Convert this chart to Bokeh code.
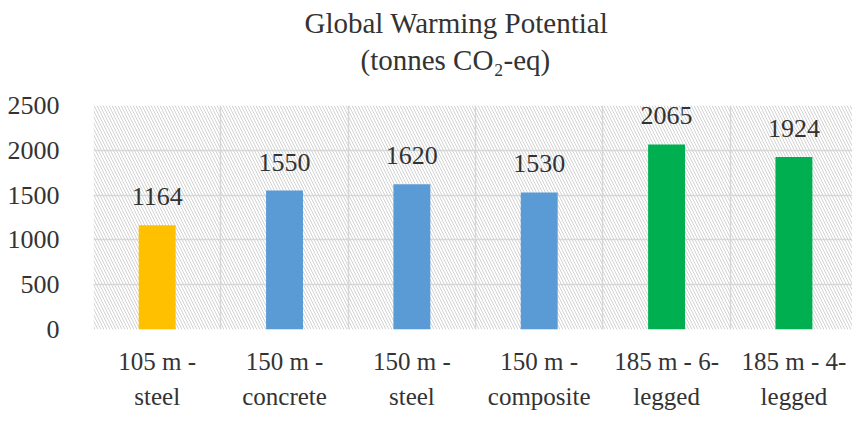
from bokeh.plotting import figure
from bokeh.models import (ColumnDataSource, Range1d, FixedTicker, LabelSet, BoxAnnotation, Title)
from bokeh.embed import file_html
from bokeh.resources import INLINE

categories = ["105 m -\nsteel", "150 m -\nconcrete", "150 m -\nsteel",
              "150 m -\ncomposite", "185 m - 6-\nlegged", "185 m - 4-\nlegged"]
values = [1164, 1550, 1620, 1530, 2065, 1924]
colors = ["#FFC000", "#5B9BD5", "#5B9BD5", "#5B9BD5", "#00B050", "#00B050"]
y_ticks = [0, 500, 1000, 1500, 2000, 2500]
title_text = "Global Warming Potential"
subtitle_text = "(tonnes CO\u2082-eq)"

FONT = "Liberation Serif"
TXT = "#333333"

xpos = [i + 0.5 for i in range(len(categories))]
src = ColumnDataSource(dict(x=xpos, top=values, color=colors,
                            label=[str(v) for v in values]))

p = figure(width=852, height=423, output_backend="svg", toolbar_location=None,
           x_range=Range1d(0, 5.96), y_range=Range1d(0, 2500),
           min_border_left=93, min_border_right=0, min_border_top=105,
           min_border_bottom=94)
p.title = None
p.outline_line_color = None
p.background_fill_color = "white"
p.border_fill_color = "white"

hatch = BoxAnnotation(fill_alpha=0, line_alpha=0, hatch_pattern="\\",
                      hatch_color="#d2d2d2", hatch_scale=6, hatch_weight=1,
                      level="underlay")
p.add_layout(hatch)

p.vbar(x="x", top="top", width=0.29, bottom=0, color="color", line_color=None, source=src)

labels = LabelSet(x="x", y="top", text="label", source=src, text_align="center",
                  text_baseline="bottom", y_offset=20, text_font=FONT,
                  text_font_size="26px", text_color=TXT)
p.add_layout(labels)

p.xaxis.ticker = FixedTicker(ticks=xpos)
p.xaxis.major_label_overrides = {x: c for x, c in zip(xpos, categories)}
p.yaxis.ticker = FixedTicker(ticks=y_ticks)

for ax in (p.xaxis, p.yaxis):
    ax.axis_line_color = None
    ax.major_tick_line_color = None
    ax.minor_tick_line_color = None
    ax.major_label_text_font = FONT
    ax.major_label_text_color = TXT
p.xaxis.major_label_text_font_size = "25px"
p.yaxis.major_label_text_font_size = "26px"
p.xaxis.major_label_standoff = 12
p.yaxis.major_label_standoff = 28
p.xaxis.major_label_text_line_height = 1.3

p.xgrid.ticker = FixedTicker(ticks=[0, 1, 2, 3, 4, 5, 6])
p.ygrid.ticker = FixedTicker(ticks=y_ticks)
for g in (p.xgrid, p.ygrid):
    g.grid_line_color = "#d9d9d9"
    g.grid_line_width = 1.5
    g.level = "underlay"

# spacer between frame and subtitle
p.add_layout(Title(text=" ", text_font_size="10px", standoff=15), "above")
sub = Title(text=subtitle_text, align="left", offset=267, text_font=FONT,
            text_font_size="29px", text_font_style="normal", text_color=TXT,
            standoff=4)
p.add_layout(sub, "above")
main = Title(text=title_text, align="left", offset=211, text_font=FONT,
             text_font_size="29px", text_font_style="normal", text_color=TXT,
             standoff=2)
p.add_layout(main, "above")

open("out.html", "w").write(file_html(p, INLINE))
